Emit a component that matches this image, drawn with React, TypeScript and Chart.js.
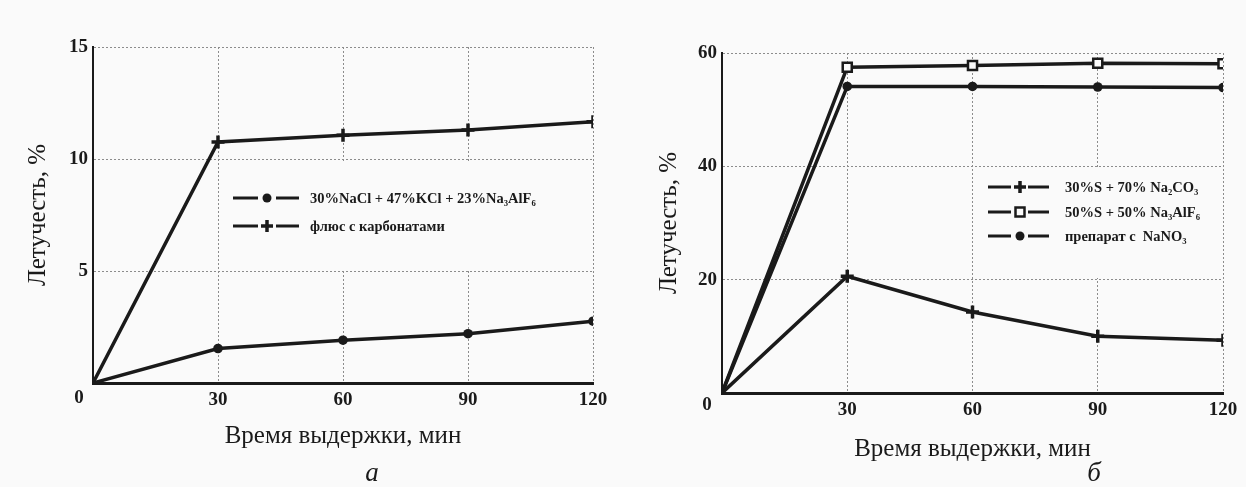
import React, { useEffect, useRef } from 'react';
import { Chart, registerables } from 'chart.js';

Chart.register(...registerables);

// ---------- data ----------
const timeMin = [0, 30, 60, 90, 120];
const xTickValues = [0, 30, 60, 90, 120];
const xTitle = 'Время выдержки, мин';
const yTitle = 'Летучесть, %';

// panel "а"
const aSeriesNames = ['30%NaCl + 47%KCl + 23%Na₃AlF₆', 'флюс с карбонатами'];
const aSaltFlux = [0, 1.54, 1.91, 2.2, 2.76];
const aCarbonateFlux = [0, 10.76, 11.06, 11.29, 11.66];
const aYTicks = [0, 5, 10, 15];

// panel "б"
const bSeriesNames = ['30%S + 70% Na₂CO₃', '50%S + 50% Na₃AlF₆', 'препарат с  NaNO₃'];
const bSodaMix = [0, 20.6, 14.3, 10.0, 9.3];
const bCryoliteMix = [0, 57.5, 57.8, 58.2, 58.1];
const bNitrateMix = [0, 54.1, 54.1, 54.0, 53.9];
const bYTicks = [0, 20, 40, 60];

// ---------- styles ----------
const W = 623;
const H = 487;
const INK = '#1a1a1a';
const SERIF = "'Liberation Serif', 'DejaVu Serif', serif";

type Marker = 'circle' | 'plus' | 'square';

function drawMarker(ctx: CanvasRenderingContext2D, m: Marker, x: number, y: number) {
  ctx.save();
  ctx.strokeStyle = INK;
  ctx.fillStyle = INK;
  if (m === 'circle') {
    ctx.beginPath();
    ctx.arc(x, y, 4.5, 0, Math.PI * 2);
    ctx.fill();
  } else if (m === 'plus') {
    ctx.lineWidth = 3.5;
    ctx.beginPath();
    ctx.moveTo(x - 6, y);
    ctx.lineTo(x + 6, y);
    ctx.moveTo(x, y - 6);
    ctx.lineTo(x, y + 6);
    ctx.stroke();
  } else {
    ctx.lineWidth = 2.5;
    ctx.fillStyle = '#fafafa';
    ctx.beginPath();
    ctx.rect(x - 4.5, y - 4.5, 9, 9);
    ctx.fill();
    ctx.stroke();
  }
  ctx.restore();
}

function pointProps(m: Marker) {
  const r = (v: number) => (c: any) => (c.dataIndex === 0 ? 0 : v);
  if (m === 'circle')
    return { pointStyle: 'circle', pointRadius: r(4.8), pointBackgroundColor: INK, pointBorderColor: INK, pointBorderWidth: 0 };
  if (m === 'plus')
    return { pointStyle: 'cross', pointRadius: r(6.5), pointBackgroundColor: INK, pointBorderColor: INK, pointBorderWidth: 3.5 };
  return { pointStyle: 'rect', pointRadius: r(6.4), pointBackgroundColor: '#fafafa', pointBorderColor: INK, pointBorderWidth: 2.5 };
}

interface PanelCfg {
  left: number;
  area: { left: number; right: number; top: number; bottom: number };
  yMax: number;
  yTicks: number[];
  yTitlePad: number;
  xTitlePad: number;
  origin: { x: number; y: number };
  letter: string;
  letterPos: { x: number; y: number };
  legendBox: { x: number; y: number; w: number; h: number };
  legendRows: number[];
  legendSample: { d1: number; d2: number; m: number; d3: number; d4: number; text: number };
  series: { name: string; values: number[]; marker: Marker }[];
}

const panels: PanelCfg[] = [
  {
    left: 0,
    area: { left: 93, right: 593, top: 47, bottom: 383 },
    yMax: 15,
    yTicks: aYTicks,
    yTitlePad: 23,
    xTitlePad: 36,
    origin: { x: 79, y: 398 },
    letter: 'а',
    letterPos: { x: 372, y: 474 },
    legendBox: { x: 223, y: 162, w: 368, h: 107 },
    legendRows: [198, 226],
    legendSample: { d1: 233, d2: 258, m: 267, d3: 276, d4: 299, text: 310 },
    series: [
      { name: aSeriesNames[0], values: aSaltFlux, marker: 'circle' },
      { name: aSeriesNames[1], values: aCarbonateFlux, marker: 'plus' },
    ],
  },
  {
    left: 623,
    area: { left: 99, right: 600, top: 53, bottom: 393 },
    yMax: 60,
    yTicks: bYTicks,
    yTitlePad: 31,
    xTitlePad: 23,
    origin: { x: 84, y: 405 },
    letter: 'б',
    letterPos: { x: 471, y: 474 },
    legendBox: { x: 357, y: 169, w: 241, h: 109 },
    legendRows: [187, 212, 236],
    legendSample: { d1: 365, d2: 388, m: 397, d3: 405, d4: 426, text: 442 },
    series: [
      { name: bSeriesNames[0], values: bSodaMix, marker: 'plus' },
      { name: bSeriesNames[1], values: bCryoliteMix, marker: 'square' },
      { name: bSeriesNames[2], values: bNitrateMix, marker: 'circle' },
    ],
  },
];

function Panel({ cfg }: { cfg: PanelCfg }) {
  const ref = useRef<HTMLCanvasElement>(null);
  useEffect(() => {
    const canvas = ref.current!;
    const a = cfg.area;
    const overlay = {
      id: 'overlay',
      beforeDatasetsDraw(chart: any) {
        const ctx: CanvasRenderingContext2D = chart.ctx;
        const b = cfg.legendBox;
        ctx.save();
        ctx.fillStyle = '#fafafa';
        ctx.fillRect(b.x, b.y, b.w, b.h);
        const s = cfg.legendSample;
        cfg.series.forEach((se, i) => {
          const y = cfg.legendRows[i];
          ctx.strokeStyle = INK;
          ctx.lineWidth = 3;
          ctx.beginPath();
          ctx.moveTo(s.d1, y);
          ctx.lineTo(s.d2, y);
          ctx.moveTo(s.d3, y);
          ctx.lineTo(s.d4, y);
          ctx.stroke();
          drawMarker(ctx, se.marker, s.m, y);
          ctx.fillStyle = INK;
          ctx.font = `bold 14.5px ${SERIF}`;
          ctx.textAlign = 'left';
          ctx.textBaseline = 'middle';
          ctx.fillText(se.name, s.text, y + 1);
        });
        ctx.restore();
      },
      afterDraw(chart: any) {
        const ctx: CanvasRenderingContext2D = chart.ctx;
        ctx.save();
        ctx.fillStyle = INK;
        ctx.textAlign = 'center';
        ctx.textBaseline = 'middle';
        ctx.font = `bold 19px ${SERIF}`;
        ctx.fillText('0', cfg.origin.x, cfg.origin.y);
        ctx.font = `italic 27px ${SERIF}`;
        ctx.fillText(cfg.letter, cfg.letterPos.x, cfg.letterPos.y);
        ctx.restore();
      },
    };
    const chart = new Chart(canvas, {
      type: 'line',
      data: {
        datasets: cfg.series.map((se) => ({
          label: se.name,
          data: timeMin.map((t, i) => ({ x: t, y: se.values[i] })),
          borderColor: INK,
          borderWidth: 3.5,
          tension: 0,
          fill: false,
          ...pointProps(se.marker),
        })) as any,
      },
      options: {
        animation: false,
        responsive: false,
        maintainAspectRatio: false,
        layout: { padding: { top: a.top, right: W - a.right, left: 0, bottom: 0 } },
        plugins: { legend: { display: false }, tooltip: { enabled: false } },
        scales: {
          x: {
            type: 'linear',
            min: 0,
            max: 120,
            afterBuildTicks: (s: any) => {
              s.ticks = xTickValues.map((v) => ({ value: v }));
            },
            afterFit: (s: any) => {
              s.height = H - a.bottom;
            },
            grid: { color: '#8c8c8c', lineWidth: 1, drawTicks: false },
            border: { color: INK, width: 3, dash: [2, 2] },
            ticks: {
              padding: 6,
              color: INK,
              font: { family: SERIF, size: 19, weight: 'bold' },
              maxRotation: 0,
              autoSkip: false,
              callback: (v: any) => (v === 0 ? '' : String(v)),
            },
            title: {
              display: true,
              text: xTitle,
              color: INK,
              font: { family: SERIF, size: 25 },
              padding: { top: 0, bottom: cfg.xTitlePad },
            },
          },
          y: {
            type: 'linear',
            min: 0,
            max: cfg.yMax,
            afterBuildTicks: (s: any) => {
              s.ticks = cfg.yTicks.map((v) => ({ value: v }));
            },
            afterFit: (s: any) => {
              s.width = a.left;
            },
            grid: { color: '#8c8c8c', lineWidth: 1, drawTicks: false },
            border: { color: INK, width: 2, dash: [2, 2] },
            ticks: {
              padding: 5,
              color: INK,
              font: { family: SERIF, size: 19, weight: 'bold' },
              callback: (v: any) => (v === 0 ? '' : String(v)),
            },
            title: {
              display: true,
              text: yTitle,
              color: INK,
              font: { family: SERIF, size: 25 },
              padding: { top: cfg.yTitlePad, bottom: 0 },
            },
          },
        },
      } as any,
      plugins: [overlay],
    });
    return () => chart.destroy();
  }, [cfg]);
  return (
    <canvas
      ref={ref}
      width={W}
      height={H}
      style={{ position: 'absolute', left: cfg.left, top: 0, width: W, height: H }}
    />
  );
}

export default function App() {
  return (
    <div
      style={{
        position: 'fixed',
        left: 0,
        top: 0,
        width: 1246,
        height: 487,
        background: '#fafafa',
        overflow: 'hidden',
      }}
    >
      {panels.map((p, i) => (
        <Panel key={i} cfg={p} />
      ))}
    </div>
  );
}
